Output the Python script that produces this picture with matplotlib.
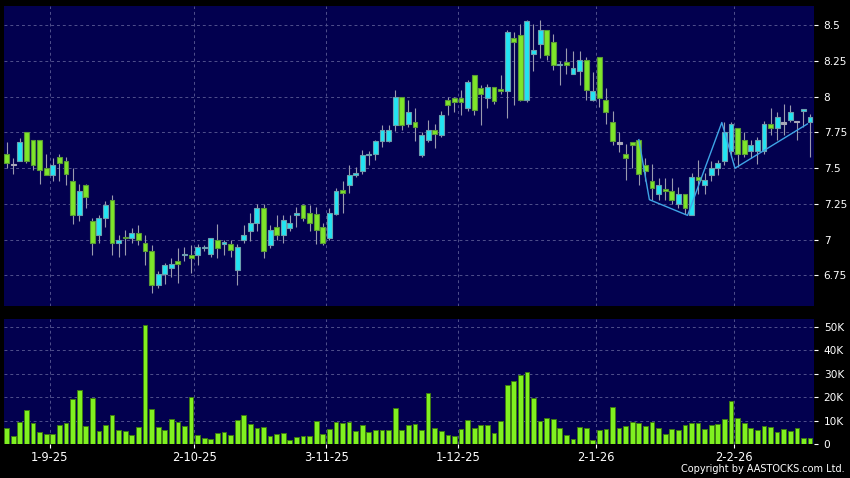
import numpy as np
import matplotlib.pyplot as plt
from matplotlib.ticker import FuncFormatter

# daily OHLC, oldest first
opens = [7.60, 7.52, 7.55, 7.75, 7.70, 7.70, 7.50, 7.45, 7.58, 7.55,
         7.41, 7.17, 7.38, 7.13, 7.03, 7.15, 7.28, 6.98, 7.02, 7.01,
         7.05, 6.98, 6.92, 6.68, 6.76, 6.80, 6.85, 6.89, 6.89, 6.89,
         6.94, 6.90, 7.00, 6.97, 6.97, 6.79, 7.00, 7.06, 7.12, 7.22,
         6.96, 7.09, 7.03, 7.08, 7.17, 7.24, 7.19, 7.18, 7.09, 7.01,
         7.18, 7.35, 7.38, 7.45, 7.48, 7.59, 7.60, 7.69, 7.69, 7.80,
         8.00, 7.81, 7.82, 7.59, 7.70, 7.77, 7.73, 7.98, 7.99, 7.99,
         7.92, 8.15, 8.06, 7.99, 8.07, 8.05, 8.04, 8.41, 8.43, 7.98,
         8.30, 8.37, 8.47, 8.38, 8.22, 8.24, 8.16, 8.18, 8.26, 7.98,
         8.28, 7.98, 7.82, 7.67, 7.60, 7.68, 7.70, 7.52, 7.41, 7.32,
         7.35, 7.34, 7.25, 7.32, 7.17, 7.44, 7.38, 7.45, 7.50, 7.55,
         7.62, 7.78, 7.70, 7.62, 7.62, 7.62, 7.81, 7.78, 7.81, 7.84,
         7.82, 7.90, 7.82]
highs = [7.68, 7.57, 7.71, 7.75, 7.70, 7.70, 7.60, 7.57, 7.60, 7.58,
         7.50, 7.39, 7.39, 7.15, 7.17, 7.27, 7.31, 7.03, 7.07, 7.08,
         7.10, 7.03, 6.96, 6.78, 6.84, 6.87, 6.94, 6.95, 6.96, 6.97,
         6.96, 7.01, 7.11, 7.00, 7.00, 6.97, 7.10, 7.19, 7.25, 7.25,
         7.10, 7.17, 7.17, 7.17, 7.23, 7.25, 7.24, 7.23, 7.12, 7.22,
         7.36, 7.41, 7.52, 7.51, 7.63, 7.62, 7.70, 7.80, 7.80, 8.05,
         8.00, 7.98, 7.92, 7.75, 7.84, 7.81, 7.90, 8.00, 8.00, 8.05,
         8.12, 8.15, 8.08, 8.09, 8.07, 8.15, 8.47, 8.45, 8.51, 8.54,
         8.51, 8.54, 8.47, 8.44, 8.25, 8.34, 8.32, 8.32, 8.28, 8.17,
         8.28, 8.06, 7.90, 7.75, 7.67, 7.68, 7.70, 7.57, 7.53, 7.43,
         7.43, 7.43, 7.37, 7.32, 7.47, 7.56, 7.47, 7.55, 7.56, 7.82,
         7.82, 7.78, 7.75, 7.70, 7.72, 7.83, 7.92, 7.89, 7.95, 7.94,
         7.83, 7.91, 7.88]
lows = [7.50, 7.46, 7.55, 7.54, 7.49, 7.39, 7.45, 7.41, 7.41, 7.38,
        7.11, 7.13, 7.22, 6.89, 6.98, 7.09, 6.89, 6.88, 6.89, 6.98,
        6.96, 6.82, 6.63, 6.66, 6.69, 6.74, 6.70, 6.85, 6.77, 6.82,
        6.92, 6.88, 6.87, 6.89, 6.88, 6.68, 6.98, 6.99, 7.06, 6.87,
        6.94, 7.00, 6.98, 7.06, 7.09, 7.13, 7.06, 6.97, 6.96, 7.00,
        7.17, 7.19, 7.33, 7.44, 7.46, 7.52, 7.56, 7.65, 7.68, 7.76,
        7.77, 7.79, 7.69, 7.58, 7.68, 7.64, 7.72, 7.87, 7.89, 7.87,
        7.90, 7.87, 7.80, 7.92, 7.95, 8.02, 7.85, 7.94, 7.97, 7.96,
        8.18, 8.27, 8.26, 8.19, 8.08, 8.16, 8.16, 8.08, 7.98, 7.97,
        7.93, 7.81, 7.66, 7.61, 7.42, 7.50, 7.38, 7.41, 7.28, 7.28,
        7.28, 7.25, 7.22, 7.18, 7.17, 7.32, 7.32, 7.41, 7.45, 7.52,
        7.58, 7.51, 7.58, 7.57, 7.53, 7.60, 7.73, 7.70, 7.73, 7.82,
        7.70, 7.79, 7.58]
closes = [7.54, 7.52, 7.68, 7.55, 7.52, 7.49, 7.45, 7.52, 7.54, 7.46,
          7.17, 7.34, 7.30, 6.98, 7.15, 7.24, 6.98, 7.00, 7.01, 7.05,
          7.00, 6.92, 6.68, 6.76, 6.82, 6.83, 6.83, 6.90, 6.87, 6.95,
          6.95, 7.01, 6.94, 6.98, 6.93, 6.95, 7.03, 7.12, 7.22, 6.92,
          7.07, 7.03, 7.14, 7.12, 7.19, 7.15, 7.12, 7.07, 6.98, 7.19,
          7.34, 7.33, 7.45, 7.47, 7.59, 7.60, 7.69, 7.77, 7.77, 8.00,
          7.80, 7.89, 7.79, 7.73, 7.77, 7.74, 7.87, 7.94, 7.96, 7.96,
          8.10, 7.91, 8.02, 8.07, 7.97, 8.04, 8.45, 8.38, 7.98, 8.53,
          8.33, 8.47, 8.29, 8.22, 8.23, 8.22, 8.20, 8.26, 8.05, 8.04,
          7.99, 7.89, 7.69, 7.67, 7.57, 7.66, 7.46, 7.48, 7.36, 7.38,
          7.34, 7.28, 7.32, 7.22, 7.44, 7.42, 7.42, 7.50, 7.54, 7.75,
          7.81, 7.60, 7.60, 7.66, 7.70, 7.81, 7.78, 7.86, 7.81, 7.89,
          7.82, 7.91, 7.86]
volumes = [6700, 3300, 9600, 14700, 9000, 5100, 4300, 4300, 8300, 9000,
           19300, 23100, 7700, 19700, 5700, 8300, 12400, 6100, 5600, 4000,
           7400, 50700, 15000, 7400, 6100, 10600, 9300, 7600, 20000, 3900,
           2700, 2300, 4900, 5300, 4000, 10300, 12400, 8400, 6700, 7400,
           3400, 4400, 4600, 1900, 3100, 3300, 3400, 9700, 4300, 6600,
           9600, 9000, 9600, 5700, 8100, 5300, 6100, 6100, 6000, 15400,
           6100, 8300, 8700, 6100, 21900, 6900, 5600, 3900, 3600, 6400,
           10300, 6900, 8300, 8300, 4900, 9900, 25000, 27100, 29300, 30900,
           19700, 10000, 11300, 10600, 7000, 4000, 2300, 7300, 7000, 1900,
           6100, 6600, 15600, 6700, 7900, 9400, 8900, 7900, 9300, 6700,
           4400, 6400, 5900, 8300, 8900, 9000, 6400, 8000, 8400, 10600,
           18400, 11300, 9000, 6700, 6100, 7600, 7100, 5300, 6300, 5700,
           7000, 2700, 2700]

# first trading day of each labelled month (bar number)
month_first_bar = [7, 29, 49, 69, 90, 111]
month_labels = ['1-9-25', '2-10-25', '3-11-25', '1-12-25', '2-1-26', '2-2-26']

price_ticks = [6.75, 7, 7.25, 7.5, 7.75, 8, 8.25, 8.5]
price_labels = ['6.75', '7', '7.25', '7.5', '7.75', '8', '8.25', '8.5']
vol_ticks = [0, 10000, 20000, 30000, 40000, 50000]

# drawn pattern line (bar number, price)
pattern_x = [96, 97.6, 103.4, 108.6, 110.6, 121.6]
pattern_y = [7.70, 7.28, 7.17, 7.82, 7.50, 7.81]

navy = '#02004f'
grid_c = '#50508c'
up_c, up_edge = '#22e4f2', '#6c9fae'
dn_c, dn_edge = '#7fe62a', '#5a9a36'
flat_c = '#a8a8b8'

o = np.array(opens)
h = np.array(highs)
l = np.array(lows)
c = np.array(closes)
x = np.arange(len(o))

fig = plt.figure(figsize=(8.5, 4.78), dpi=100, facecolor='black')
ax1 = fig.add_axes([4/850, 172/478, 810/850, 300/478])
ax2 = fig.add_axes([4/850, 34/478, 810/850, 125/478])

grid_x = [m - 0.5 for m in month_first_bar]

for ax in (ax1, ax2):
    ax.set_facecolor(navy)
    for s in ax.spines.values():
        s.set_visible(False)
    ax.set_axisbelow(True)
    ax.grid(True, color=grid_c, linestyle=(0, (3, 3)), linewidth=0.7)
    ax.yaxis.tick_right()
    ax.tick_params(axis='y', colors='white', labelsize=7.6, length=3, pad=4,
                   width=0.8)
    ax.set_xticks(grid_x)
    ax.set_xlim(-0.41, 122.6)

# candles
ax1.vlines(x, l, h, color='#9a9aae', linewidth=0.8, zorder=2)
body_lo = np.minimum(o, c)
body_h = np.maximum(np.abs(c - o), 0.012)
cols = np.where(c > o, up_c, np.where(c < o, dn_c, flat_c))
edges = np.where(c > o, up_edge, np.where(c < o, dn_edge, flat_c))
ax1.bar(x, body_h, bottom=body_lo, width=0.74, color=cols,
        edgecolor=edges, linewidth=0.8, zorder=3)
ax1.plot(pattern_x, pattern_y, color='#3ea4e6', linewidth=1.0, zorder=4)

ax1.set_ylim(6.536, 8.635)
ax1.set_yticks(price_ticks, price_labels)
ax1.tick_params(axis='x', length=0, labelbottom=False)

# volume
ax2.bar(x, volumes, width=0.72, color='#80f020', edgecolor='#3d7a12',
        linewidth=0.7, zorder=3)
ax2.set_ylim(0, 53400)
ax2.set_yticks(vol_ticks)
ax2.yaxis.set_major_formatter(FuncFormatter(
    lambda v, p: '0' if v == 0 else f'{int(v / 1000)}K'))
ax2.set_xticks(grid_x, month_labels)
ax2.tick_params(axis='x', colors='white', labelsize=8.3, length=3, pad=2,
                width=0.8)

fig.text(0.994, 0.008, 'Copyright by AASTOCKS.com Ltd.', color='white',
         fontsize=7, ha='right', va='bottom')

fig.savefig('out.png', dpi=100, facecolor='black')
